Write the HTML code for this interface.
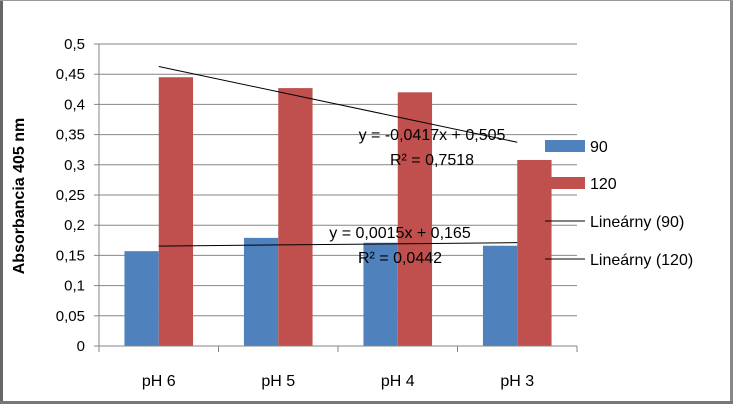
<!DOCTYPE html>
<html><head><meta charset="utf-8"><style>
html,body{margin:0;padding:0;background:#fff}
svg{display:block;font-family:"Liberation Sans",sans-serif}
</style></head><body>
<svg id="chart" width="733" height="404" viewBox="0 0 733 404" xmlns="http://www.w3.org/2000/svg">
<rect x="0" y="0" width="733" height="404" fill="#fff"/>
<rect x="0" y="0" width="3" height="404" fill="#666"/>
<rect x="730" y="0" width="3" height="404" fill="#888"/>
<rect x="0" y="401" width="733" height="3" fill="#777"/>
<rect x="0" y="0" width="733" height="1" fill="#999"/>
<g id="grid"></g><g id="bars"></g><g id="trend"></g><g id="axes"></g>
<text transform="translate(24,196) rotate(-90)" text-anchor="middle" font-size="16" font-weight="bold" fill="#000">Absorbancia 405 nm</text>
<g font-size="16" fill="#000" text-anchor="middle">
<text x="432" y="140">y = -0,0417x + 0,505</text>
<text x="432" y="165">R² = 0,7518</text>
</g>
<g font-size="16" fill="#000" text-anchor="middle">
<text x="400" y="238">y = 0,0015x + 0,165</text>
<text x="400" y="263">R² = 0,0442</text>
</g>
<g font-size="16" fill="#000">
<rect x="545" y="140" width="40" height="12" fill="#4f81bd"/>
<text x="590" y="152">90</text>
<rect x="545" y="177" width="40" height="12" fill="#c0504d"/>
<text x="590" y="189">120</text>
<line x1="545" y1="221" x2="585" y2="221" stroke="#000" stroke-width="1"/>
<text x="590" y="227">Lineárny (90)</text>
<line x1="545" y1="259" x2="585" y2="259" stroke="#000" stroke-width="1"/>
<text x="590" y="265">Lineárny (120)</text>
</g>
</svg>
<script>
const categories = ["pH 6","pH 5","pH 4","pH 3"];
const series90 = [0.157,0.179,0.171,0.166];
const series120 = [0.445,0.427,0.420,0.308];
const yTicks = [0,0.05,0.1,0.15,0.2,0.25,0.3,0.35,0.4,0.45,0.5];
const yTickLabels = ["0","0,05","0,1","0,15","0,2","0,25","0,3","0,35","0,4","0,45","0,5"];
const NS="http://www.w3.org/2000/svg";
const X0=99, X1=577, Y0=346, Y1=44, YMAX=0.5;
const catW=(X1-X0)/categories.length, barW=34.3;
function y(v){return Y0-(v/YMAX)*(Y0-Y1);}
function xc(i){return X0+catW*(i+0.5);}
function mk(tag,attrs,parent){const e=document.createElementNS(NS,tag);for(const k in attrs)e.setAttribute(k,attrs[k]);parent.appendChild(e);return e;}
const grid=document.getElementById('grid'),bars=document.getElementById('bars'),trend=document.getElementById('trend'),axes=document.getElementById('axes');
yTicks.forEach((t,i)=>{
  if(t>0){const g=mk('line',{x1:X0,x2:X1,y1:y(t),y2:y(t),stroke:'#868686','stroke-width':1},grid);
  
  }
  const tk=mk('line',{x1:X0-5,x2:X0,y1:y(t),y2:y(t),stroke:'#868686'},axes);
  
  
  const l=mk('text',{x:85,y:y(t)+5,'text-anchor':'end','font-size':15,fill:'#000'},axes);
  l.textContent=yTickLabels[i];
  
  
});
categories.forEach((c,i)=>{
  const b1=mk('rect',{x:xc(i)-barW,y:y(series90[i]),width:barW,height:Y0-y(series90[i]),fill:'#4f81bd'},bars);
  
  
  const b2=mk('rect',{x:xc(i),y:y(series120[i]),width:barW,height:Y0-y(series120[i]),fill:'#c0504d'},bars);
  
  
  const l=mk('text',{x:xc(i),y:386,'text-anchor':'middle','font-size':16,fill:'#000'},axes);
  l.textContent=c;
  
  
});
for(let i=0;i<=categories.length;i++){
  const t=mk('line',{x1:X0+catW*i,x2:X0+catW*i,y1:Y0,y2:Y0+6,stroke:'#868686'},axes);
  
  
}
const ax=mk('line',{x1:X0,x2:X1,y1:Y0,y2:Y0,stroke:'#868686'},axes);


const ay=mk('line',{x1:X0,x2:X0,y1:Y1,y2:Y0,stroke:'#868686'},axes);


function fit(vals){const n=vals.length;let sx=0,sy=0,sxx=0,sxy=0;vals.forEach((v,i)=>{const x=i+1;sx+=x;sy+=v;sxx+=x*x;sxy+=x*v;});const m=(n*sxy-sx*sy)/(n*sxx-sx*sx);return{m,b:(sy-m*sx)/n};}
[[series90,'trendline-90'],[series120,'trendline-120']].forEach(([s,name])=>{
  const f=fit(s),n=s.length;
  const l=mk('line',{x1:xc(0),y1:y(f.m*1+f.b),x2:xc(n-1),y2:y(f.m*n+f.b),stroke:'#000','stroke-width':1},trend);
  
  
});
</script>
</body></html>
